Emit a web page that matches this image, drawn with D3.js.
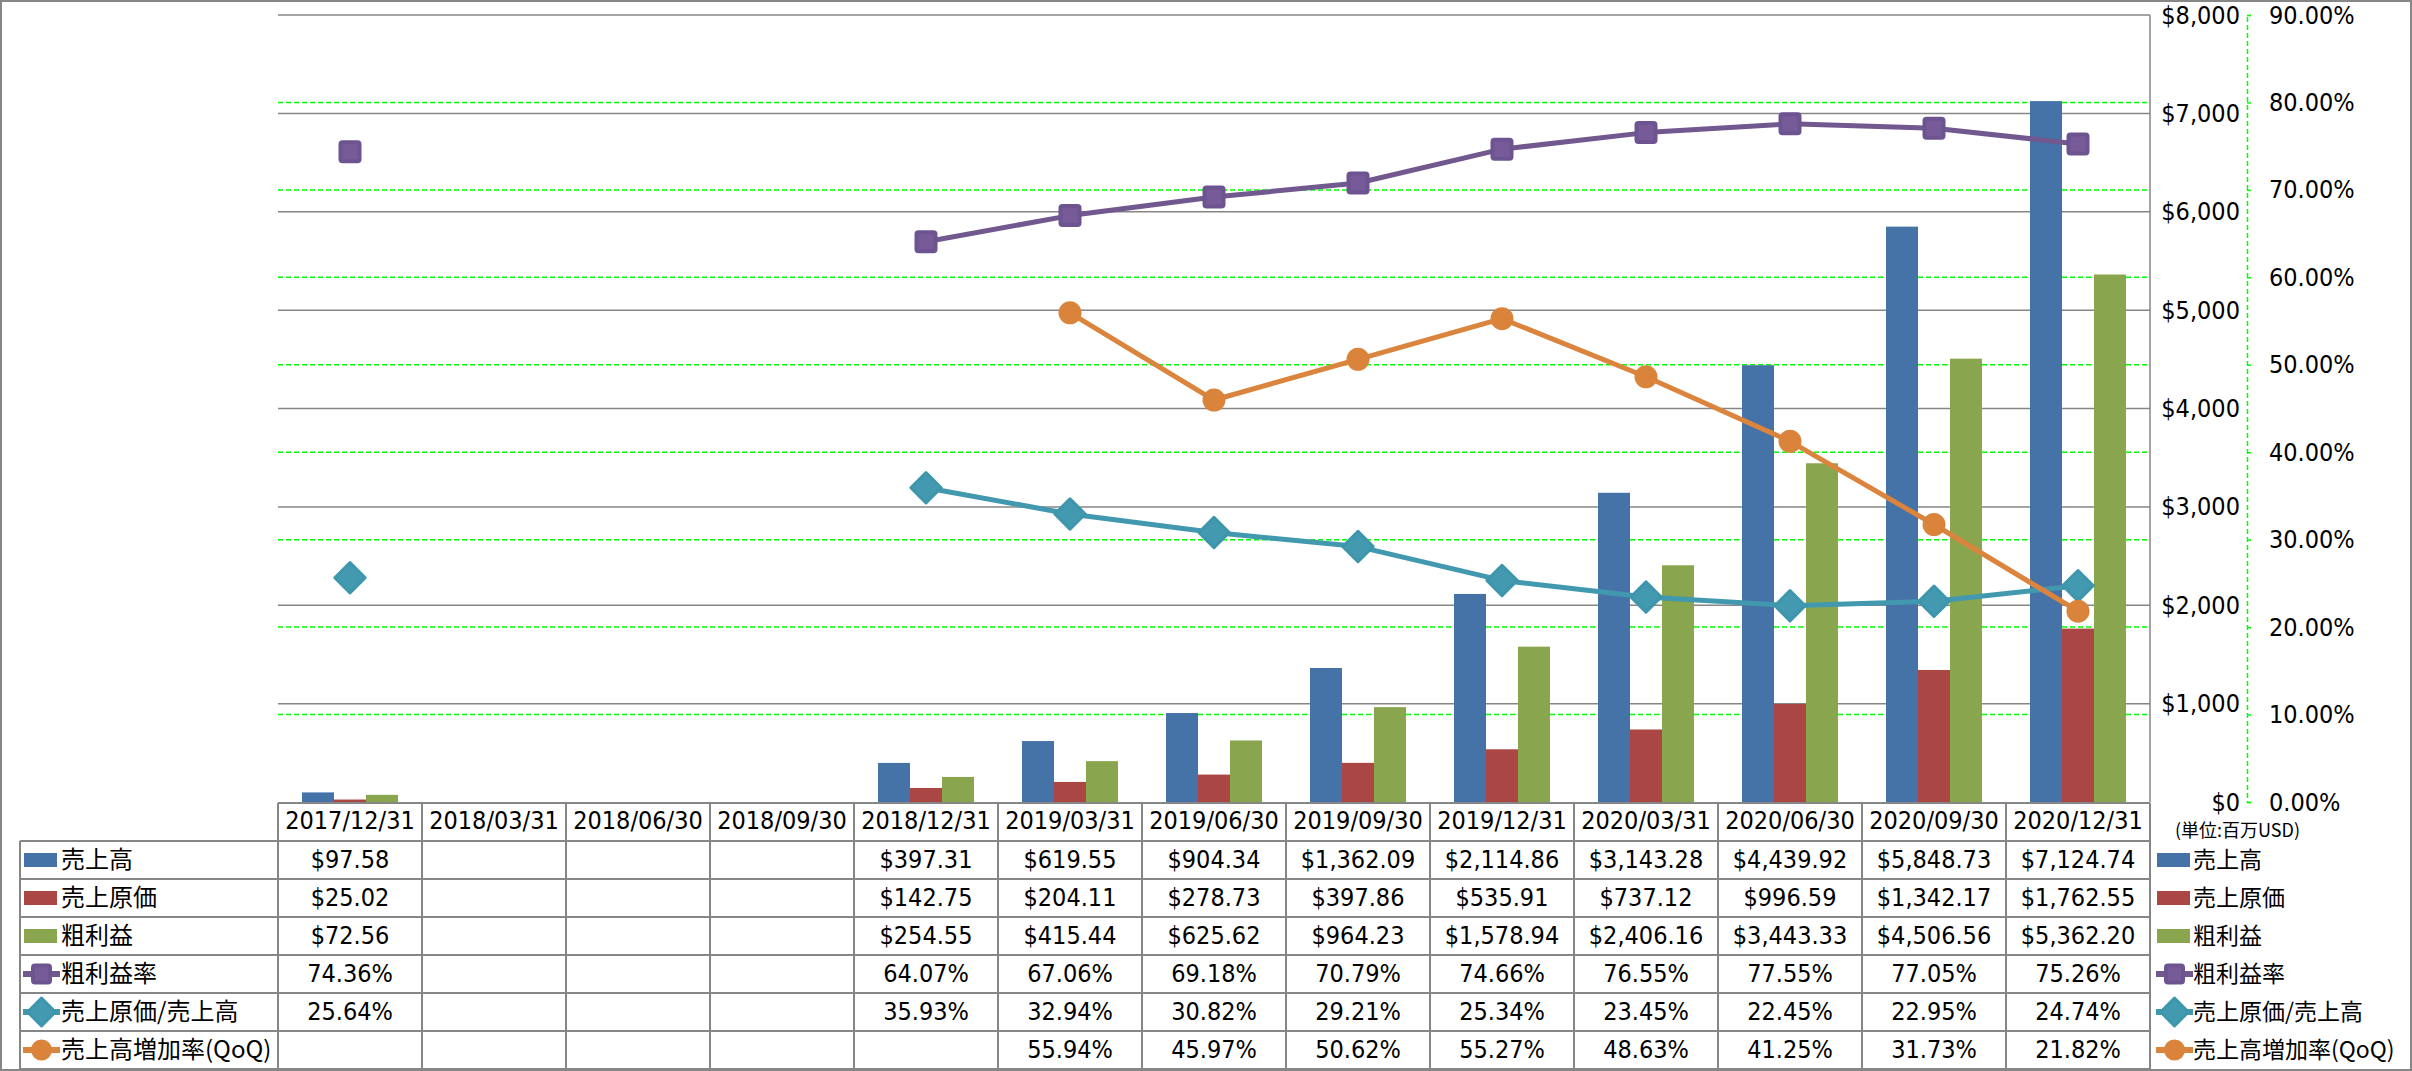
<!DOCTYPE html>
<html><head><meta charset="utf-8">
<script src="https://cdn.jsdelivr.net/npm/d3@7"></script>
<style>
body{margin:0;background:#fff;}
svg text{font-family:"Liberation Sans Narrow","DejaVu Sans Condensed","Noto Sans CJK JP",sans-serif;fill:#000;}
.jp{font-family:"Liberation Sans Narrow","Noto Sans CJK JP",sans-serif;}
</style></head>
<body><svg id="c" width="2412" height="1071"></svg>
<script>
const categories = ["2017/12/31","2018/03/31","2018/06/30","2018/09/30","2018/12/31","2019/03/31","2019/06/30","2019/09/30","2019/12/31","2020/03/31","2020/06/30","2020/09/30","2020/12/31"];
const revenue   = [97.58,null,null,null,397.31,619.55,904.34,1362.09,2114.86,3143.28,4439.92,5848.73,7124.74];
const cost      = [25.02,null,null,null,142.75,204.11,278.73,397.86,535.91,737.12,996.59,1342.17,1762.55];
const gross     = [72.56,null,null,null,254.55,415.44,625.62,964.23,1578.94,2406.16,3443.33,4506.56,5362.20];
const grossRate = [74.36,null,null,null,64.07,67.06,69.18,70.79,74.66,76.55,77.55,77.05,75.26];
const costRate  = [25.64,null,null,null,35.93,32.94,30.82,29.21,25.34,23.45,22.45,22.95,24.74];
const qoq       = [null,null,null,null,null,55.94,45.97,50.62,55.27,48.63,41.25,31.73,21.82];
const leftTicks = [0,1000,2000,3000,4000,5000,6000,7000,8000];
const rightTicks = [0,10,20,30,40,50,60,70,80,90];
const unitLabel = "(単位:百万USD)";

const barSeries = [
  {name:"売上高", values:revenue, color:"#4572A7"},
  {name:"売上原価", values:cost, color:"#AA4643"},
  {name:"粗利益", values:gross, color:"#89A54E"}
];
const lineSeries = [
  {name:"粗利益率", values:grossRate, color:"#71588F", marker:"square"},
  {name:"売上原価/売上高", values:costRate, color:"#4198AF", marker:"diamond"},
  {name:"売上高増加率(QoQ)", values:qoq, color:"#DB843D", marker:"circle"}
];

const svg = d3.select("#c");
const L = 278, R = 2150, T = 15, B = 802;
const grey = "#868686";

const x = d3.scaleBand().domain(categories).range([L, R]);
const bw = x.bandwidth();
const xs = d3.scaleBand().domain(barSeries.map(s=>s.name)).range([bw*24/144, bw*120/144]);
const yL = d3.scaleLinear().domain([0,8000]).range([B, T]);
const yR = d3.scaleLinear().domain([0,90]).range([B, T]);

// outer border
svg.append("rect").attr("x",1).attr("y",1).attr("width",2410).attr("height",1069)
  .attr("fill","none").attr("stroke",grey).attr("stroke-width",2);

// green dashed gridlines (secondary)
svg.append("g").selectAll("line").data(rightTicks.filter(t=>t>0 && t<90)).join("line")
  .attr("x1",L).attr("x2",R).attr("y1",d=>yR(d)).attr("y2",d=>yR(d))
  .attr("stroke","#00FF00").attr("stroke-width",1.5).attr("stroke-dasharray","5,3");
// grey gridlines (primary)
svg.append("g").selectAll("line").data(leftTicks.filter(t=>t>0)).join("line")
  .attr("x1",L).attr("x2",R).attr("y1",d=>yL(d)).attr("y2",d=>yL(d))
  .attr("stroke",grey).attr("stroke-width",1.5);
// right plot border
svg.append("line").attr("x1",R).attr("x2",R).attr("y1",T).attr("y2",B)
  .attr("stroke",grey).attr("stroke-width",1.5);

// bars
barSeries.forEach(s=>{
  svg.append("g").selectAll("rect").data(categories.map((c,i)=>({c,v:s.values[i]})).filter(d=>d.v!=null)).join("rect")
    .attr("x",d=>x(d.c)+xs(s.name)).attr("width",xs.bandwidth())
    .attr("y",d=>yL(d.v)).attr("height",d=>yL(0)-yL(d.v))
    .attr("fill",s.color);
});

// lines
function drawMarker(g, type, color, cx, cy, size){
  if(type==="square"){
    g.append("rect").attr("x",cx-size/2+2).attr("y",cy-size/2+2).attr("width",size-4).attr("height",size-4)
      .attr("rx",2).attr("fill","#765B98").attr("stroke","#6C5490").attr("stroke-width",4).attr("stroke-linejoin","round");
  } else if(type==="diamond"){
    const h=size*0.66;
    g.append("path").attr("d",`M${cx},${cy-h}L${cx+h},${cy}L${cx},${cy+h}L${cx-h},${cy}Z`)
      .attr("fill","#4299B0").attr("stroke","#3E96AD").attr("stroke-width",3).attr("stroke-linejoin","round");
  } else {
    g.append("circle").attr("cx",cx).attr("cy",cy).attr("r",size/2).attr("fill","#DA833A");
  }
}
lineSeries.forEach(s=>{
  const pts = categories.map((c,i)=>({c,v:s.values[i]}));
  const line = d3.line().defined(d=>d.v!=null).x(d=>x(d.c)+bw/2).y(d=>yR(d.v)).curve(d3.curveLinear);
  svg.append("path").datum(pts).attr("d",line).attr("fill","none").attr("stroke",s.color).attr("stroke-width",5).attr("stroke-linejoin","round");
  const g = svg.append("g");
  pts.filter(d=>d.v!=null).forEach(d=>drawMarker(g,s.marker,s.color,x(d.c)+bw/2,yR(d.v),23));
});

// axes
const axL = d3.axisLeft(yL).tickValues(leftTicks).tickFormat(d3.format("$,")).tickSize(0).tickPadding(4);
const gL = svg.append("g").attr("transform","translate(2244,0)").call(axL);
gL.select(".domain").remove();
gL.selectAll("text").attr("font-size",25).style("font-family","'Liberation Sans Narrow','DejaVu Sans Condensed',sans-serif");

const axR = d3.axisRight(yR).tickValues(rightTicks).tickFormat(d=>d.toFixed(2)+"%").tickSize(4).tickPadding(18);
const gR = svg.append("g").attr("transform","translate(2247,0)").call(axR);
gR.select(".domain").attr("stroke","#00FF00").attr("stroke-width",1.5).attr("stroke-dasharray","5,3");
gR.selectAll(".tick line").attr("stroke","#00FF00").attr("stroke-width",1.5);
gR.selectAll("text").attr("font-size",25).style("font-family","'Liberation Sans Narrow','DejaVu Sans Condensed',sans-serif");

svg.append("text").attr("x",2175).attr("y",832).attr("font-size",18).attr("dominant-baseline","middle")
  .attr("class","jp").text(unitLabel);

// data table
const rows = [...barSeries, ...lineSeries];
const rowY = d3.scaleBand().domain(rows.map(r=>r.name)).range([841,1069]);
const rh = rowY.bandwidth();
const tg = svg.append("g");
const fmtMoney = d3.format("$,.2f");
// header
tg.selectAll("text.h").data(categories).join("text").attr("class","h")
  .attr("x",d=>x(d)+bw/2).attr("y",822).attr("text-anchor","middle").attr("dominant-baseline","middle")
  .attr("font-size",25).text(d=>d);
// grid lines
tg.append("line").attr("x1",L).attr("x2",R).attr("y1",803).attr("y2",803).attr("stroke",grey).attr("stroke-width",2);
const hLines = rows.map(r=>rowY(r.name)).concat([1069]);
tg.selectAll("line.hl").data(hLines).join("line").attr("class","hl")
  .attr("x1",20).attr("x2",R).attr("y1",d=>d).attr("y2",d=>d).attr("stroke",grey).attr("stroke-width",2);
tg.append("line").attr("x1",20).attr("x2",20).attr("y1",841).attr("y2",1069).attr("stroke",grey).attr("stroke-width",2);
tg.selectAll("line.vl").data(categories.map(c=>x(c)).concat([R])).join("line").attr("class","vl")
  .attr("x1",d=>d).attr("x2",d=>d).attr("y1",803).attr("y2",1069).attr("stroke",grey).attr("stroke-width",2);
// cells
rows.forEach((r,ri)=>{
  const isBar = ri<3;
  tg.append("g").selectAll("text").data(categories.map((c,i)=>({c,v:r.values[i]})).filter(d=>d.v!=null)).join("text")
    .attr("x",d=>x(d.c)+bw/2).attr("y",rowY(r.name)+rh/2+1).attr("text-anchor","middle").attr("dominant-baseline","middle")
    .attr("font-size",25).text(d=>isBar?fmtMoney(d.v):d.v.toFixed(2)+"%");
});

// legend keys (in table and on right)
function legendKey(g, r, ri, x0, cy){
  if(ri<3){
    g.append("rect").attr("x",x0).attr("y",cy-7).attr("width",33).attr("height",14).attr("fill",r.color);
  } else {
    g.append("line").attr("x1",x0-1).attr("x2",x0+36).attr("y1",cy).attr("y2",cy).attr("stroke",r.color).attr("stroke-width",6);
    drawMarker(g, r.marker, r.color, x0+17.5, cy, 21);
  }
}
rows.forEach((r,ri)=>{
  const cy = rowY(r.name)+rh/2;
  legendKey(tg, r, ri, 24, cy);
  tg.append("text").attr("class","jp").attr("x",61).attr("y",cy+1).attr("dominant-baseline","middle").attr("font-size",24).text(r.name);
  legendKey(tg, r, ri, 2157, cy);
  tg.append("text").attr("class","jp").attr("x",2193).attr("y",cy+2).attr("dominant-baseline","middle").attr("font-size",23).text(r.name);
});
</script></body></html>
